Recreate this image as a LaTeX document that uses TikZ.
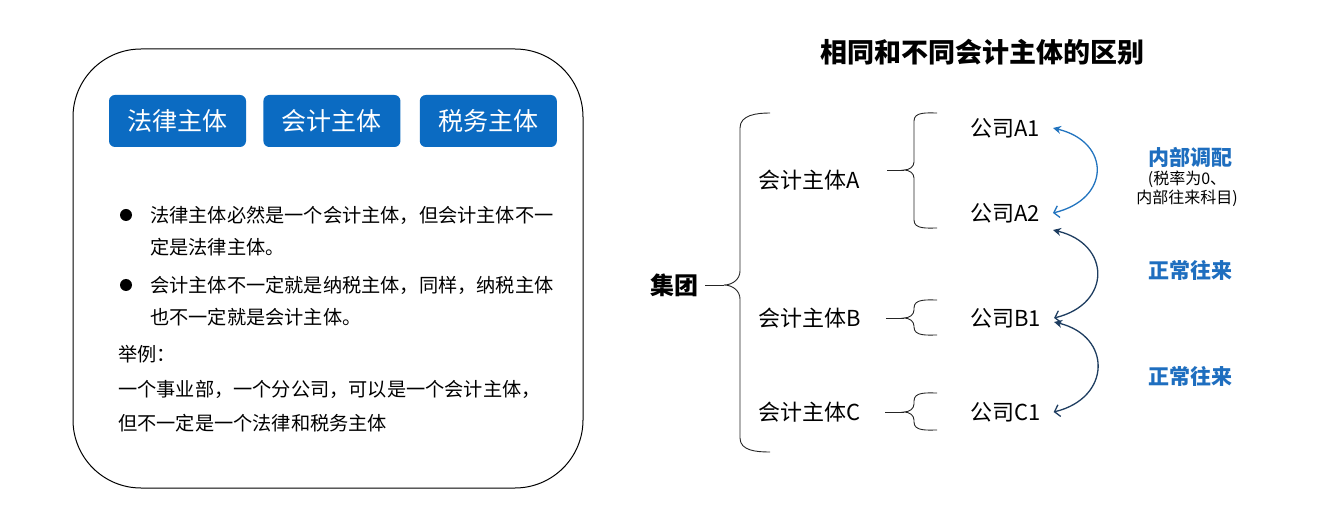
\documentclass[tikz,border=0pt]{standalone}
\usepackage{fontspec}
\setmainfont{Noto Sans CJK SC}
\usepackage{tikz}
\usetikzlibrary{arrows.meta,positioning,calc}
\definecolor{btnBlue}{HTML}{0B6BC2}
\definecolor{lblBlue}{HTML}{1E6EBF}
\definecolor{arcLight}{HTML}{2274BF}
\definecolor{arcDark}{HTML}{1E3D60}

\begin{document}
\begin{tikzpicture}[x=1pt,y=-1pt,
  btn/.style={fill=btnBlue,rounded corners=6pt,minimum width=137pt,minimum height=52pt,text=white,font=\fontsize{25}{30}\selectfont},
  line/.style={anchor=west,inner sep=0pt,font=\fontsize{19.2}{24}\selectfont},
  dot/.style={circle,fill=black,inner sep=0pt,minimum size=12pt},
  lbl/.style={inner sep=0pt,font=\fontsize{22}{26}\selectfont},
  brace/.style={draw=black!85,line width=0.9pt},
  arc/.style={{Stealth[length=8pt,width=8pt]}-{Straight Barb[length=5pt,width=12pt]},line width=1.3pt},
  note/.style={text=lblBlue,font=\fontsize{21}{25}\selectfont\bfseries,inner sep=0pt}
]
\useasboundingbox (0,0) rectangle (1323,526);
% left panel
\draw[line width=1pt,rounded corners=68pt] (73,49) rectangle (583,488);
\node[btn] (legal) at (177.5,121) {法律主体};
\node[btn,right=17pt of legal] (acct) {会计主体};
\node[btn,right=19pt of acct] (tax) {税务主体};
\node[dot] (d1) at (126,215) {};
\node[dot] (d2) at (126,285) {};
\node[line] (t1) at (150,215) {法律主体必然是一个会计主体，但会计主体不一};
\node[line] (t2) at (150,247) {定是法律主体。};
\node[line] (t3) at (150,285) {会计主体不一定就是纳税主体，同样，纳税主体};
\node[line] (t4) at (150,317) {也不一定就是会计主体。};
\node[line] (t5) at (118,354) {举例：};
\node[line] (t6) at (118,389) {一个事业部，一个分公司，可以是一个会计主体，};
\node[line] (t7) at (118,423) {但不一定是一个法律和税务主体};
% right panel
\node[font=\fontsize{27}{32}\selectfont\bfseries] (title) at (982,52) {相同和不同会计主体的区别};
\node[lbl,font=\fontsize{24}{28}\selectfont\bfseries] (group) at (674,285) {集团};
\node[lbl,anchor=west] (entA) at (758,180) {会计主体A};
\node[lbl,anchor=west] (entB) at (758,318) {会计主体B};
\node[lbl,anchor=west] (entC) at (758,412) {会计主体C};
\node[lbl,anchor=west] (a1) at (970,128) {公司A1};
\node[lbl,anchor=west] (a2) at (970,213) {公司A2};
\node[lbl,anchor=west] (b1) at (970,318) {公司B1};
\node[lbl,anchor=west] (c1) at (970,412) {公司C1};
% braces
\coordinate (tipG) at (724,285);
\draw[brace] (770,113) to[out=180,in=90] (740,128) -- (740,271) to[out=-90,in=0] (tipG)
  to[out=0,in=90] (740,299) -- (740,438) to[out=-90,in=180] (770,452);
\draw[brace] (group.east) ++(7,0) -- (tipG);
\foreach \t/\m/\b/\n in {113/170/228/A,300/318/335/B,393/412/430/C}{
  \coordinate (tip\n) at (904,\m);
  \draw[brace] (937,\t) to[out=180,in=90] (914,\t+8) -- (914,\m-8) to[out=-90,in=0] (tip\n)
    to[out=0,in=90] (914,\m+8) -- (914,\b-8) to[out=-90,in=180] (937,\b);
}
\draw[brace] (887,170) -- (tipA);
\draw[brace] ($(entB.east)+(25,0)$) -- (tipB);
\draw[brace] ($(entC.east)+(25,0)$) -- (tipC);
% arcs
\draw[arc,draw=arcLight] ($(a1.east)+(13,0)$) .. controls +(58,14) and +(58,-14) .. ($(a2.east)+(13,0)$);
\draw[arc,draw=arcDark] ($(a2.east)+(13,17)$) .. controls +(58,14) and +(58,-14) .. ($(b1.east)+(13,0)$);
\draw[arc,draw=arcDark] ($(b1.east)+(13,4)$) .. controls +(58,14) and +(58,-14) .. ($(c1.east)+(13,0)$);
\node[note] (inner) at (1190,157) {内部调配};
\node[inner sep=0pt,align=center,font=\fontsize{16}{19}\selectfont] (innerx) at (1187,189) {(税率为0、\\内部往来科目)};
\node[note] (norm1) at (1190,270) {正常往来};
\node[note] (norm2) at (1190,376) {正常往来};
\end{tikzpicture}
\end{document}
